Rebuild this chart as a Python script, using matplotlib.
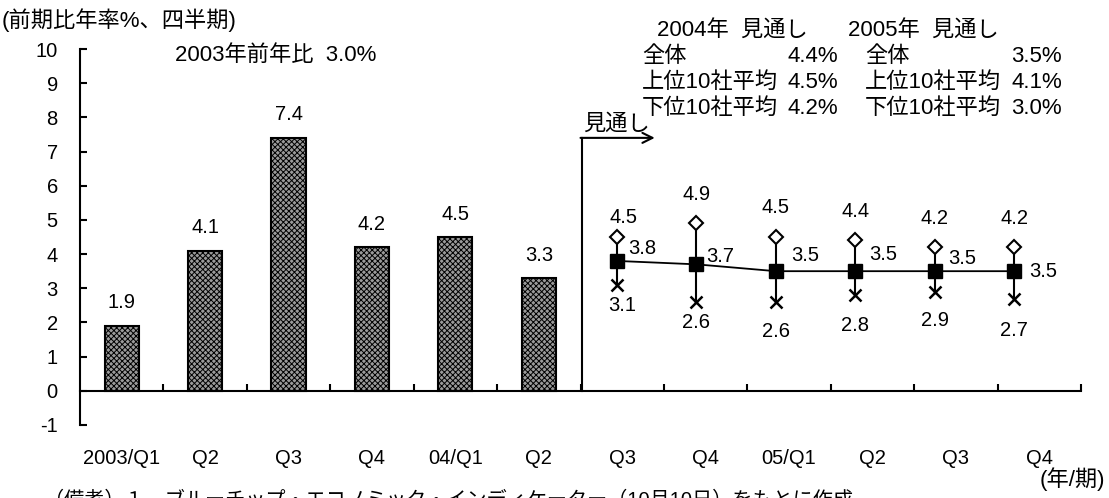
import matplotlib
matplotlib.use('Agg')
import matplotlib.pyplot as plt

plt.rcParams['font.family'] = ['Liberation Sans', 'Noto Sans CJK JP']
plt.rcParams['hatch.color'] = '#3c3c3c'
plt.rcParams['hatch.linewidth'] = 0.7

# quarterly growth, actual (bars)
quarters = ['2003/Q1', 'Q2', 'Q3', 'Q4', '04/Q1', 'Q2',
            'Q3', 'Q4', '05/Q1', 'Q2', 'Q3', 'Q4']
actual = [1.9, 4.1, 7.4, 4.2, 4.5, 3.3]

# forecast: consensus, top-10 average, bottom-10 average
fc_mean = [3.8, 3.7, 3.5, 3.5, 3.5, 3.5]
fc_high = [4.5, 4.9, 4.5, 4.4, 4.2, 4.2]
fc_low = [3.1, 2.6, 2.6, 2.8, 2.9, 2.7]

yticks = list(range(-1, 11))

# label offsets (points) for the forecast annotations
mean_off = [(18, 9), (17, 6), (21, 11), (20, 12), (20, 9), (21, 0)]
high_off = [(5, 14), (0, 21), (0, 21), (0, 21), (0, 21), (0, 21)]
low_off = [(4, -15), (0, -15), (0, -21), (0, -22), (0, -21), (0, -23)]

W, H = 1109, 498
fig = plt.figure(figsize=(W / 100, H / 100), dpi=100)
ax = fig.add_axes([80 / W, 1 - 425 / H, 1001 / W, 376 / H])

FS = 14.5   # numbers
FJ = 16     # lines with Japanese text

# bars
xs = list(range(len(actual)))
ax.bar(xs, actual, width=0.41, facecolor='#9a9a9a', edgecolor='black',
       linewidth=1.5, hatch='xxxxxx', zorder=2)
for x, v in zip(xs, actual):
    ax.annotate(f'{v:.1f}', (x, v), xytext=(0, 16.5), textcoords='offset points',
                ha='center', va='center', fontsize=FS)

ax.set_xlim(-0.5, len(quarters) - 0.5)
ax.set_ylim(-1, 10)

for s in ['top', 'right']:
    ax.spines[s].set_visible(False)
ax.spines['bottom'].set_position(('data', 0))
ax.spines['left'].set_linewidth(1.5)
ax.spines['bottom'].set_linewidth(1.5)

ax.set_yticks(yticks)
ax.set_yticklabels([str(t) for t in yticks], fontsize=FS)
ax.tick_params(axis='y', direction='in', length=5, width=1.5, pad=16)

# category boundary ticks on the zero line, labels below the plot
ax.set_xticks([i + 0.5 for i in range(len(quarters))])
ax.set_xticklabels([])
ax.set_xticks(range(len(quarters)), minor=True)
ax.set_xticklabels(quarters, minor=True, fontsize=FS)
ax.tick_params(axis='x', which='major', direction='in', length=5, width=1.5)
ax.tick_params(axis='x', which='minor', length=0, pad=42)

# forecast series on its own category axis
ax2 = ax.twiny()
ax2.set_xlim(-6.76, 5.84)
ax2.axis('off')
fx = list(range(len(fc_mean)))
for x, lo, hi in zip(fx, fc_low, fc_high):
    ax2.plot([x, x], [lo, hi], color='black', lw=1.5, zorder=3)
ax2.plot(fx, fc_mean, color='black', lw=1.3, marker='s', ms=10.5, zorder=4)
ax2.plot(fx, fc_high, ls='none', marker='D', ms=7.5, mfc='white',
         mec='black', mew=1.5, zorder=4)
ax2.plot(fx, fc_low, ls='none', marker='x', ms=9, mec='black', mew=1.8, zorder=4)

for x, v, o in zip(fx, fc_mean, mean_off):
    ax2.annotate(f'{v:.1f}', (x, v), xytext=o, textcoords='offset points',
                 ha='center', va='center', fontsize=FS)
for x, v, o in zip(fx, fc_high, high_off):
    ax2.annotate(f'{v:.1f}', (x, v), xytext=o, textcoords='offset points',
                 ha='center', va='center', fontsize=FS)
for x, v, o in zip(fx, fc_low, low_off):
    ax2.annotate(f'{v:.1f}', (x, v), xytext=o, textcoords='offset points',
                 ha='center', va='center', fontsize=FS)

# "見通し" marker: vertical line from the axis, then an arrow to the right
ax.plot([5.52, 5.52], [0, 7.4], color='black', lw=1.5, zorder=3)
ax.annotate('', xy=(6.39, 7.4), xytext=(5.5, 7.4),
            arrowprops=dict(arrowstyle='->', color='black', lw=1.5,
                            mutation_scale=18, shrinkA=0, shrinkB=0))
ax.text(5.53, 7.5, '見通し', ha='left', va='bottom', fontsize=FJ)


def ftext(x, y, s, **kw):
    kw.setdefault('fontsize', FJ)
    kw.setdefault('va', 'center')
    fig.text(x / W, 1 - y / H, s, **kw)


ftext(2, 20, '(前期比年率%、四半期)')
ftext(175, 55, '2003年前年比  3.0%')

ftext(657, 31, '2004年  見通し')
ftext(848, 31, '2005年  見通し')
rows = ['全体', '上位10社平均', '下位10社平均']
vals_2004 = ['4.4%', '4.5%', '4.2%']
vals_2005 = ['3.5%', '4.1%', '3.0%']
for i, (r, a, b) in enumerate(zip(rows, vals_2004, vals_2005)):
    y = 57 + 25.5 * i
    ftext(642, y, r)
    ftext(838, y, a, ha='right')
    ftext(865, y, r)
    ftext(1062, y, b, ha='right')

ftext(1105, 479, '(年/期)', ha='right')
ftext(44, 491, '（備考）１．ブルーチップ・エコノミック・インディケーター（10月10日）をもとに作成',
      va='top', fontsize=14.5)

fig.savefig('out.png', dpi=100)
